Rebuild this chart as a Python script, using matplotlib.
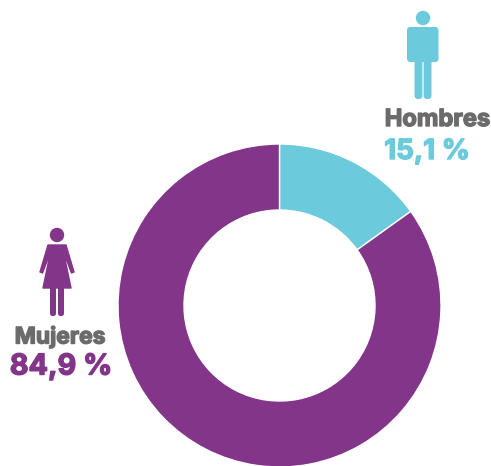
import matplotlib
matplotlib.use("Agg")
import matplotlib.pyplot as plt
from matplotlib.patches import Circle, Polygon, FancyBboxPatch, Rectangle
import matplotlib.patheffects as pe

labels = ["Hombres", "Mujeres"]
values = [15.1, 84.9]
value_labels = ["15,1 %", "84,9 %"]
colors = ["#6BCBDC", "#83358A"]
GREY = "#6B6B6B"
FONT = "Inter"

fig = plt.figure(figsize=(4.91, 4.66), dpi=100)
ax = fig.add_axes([0, 0, 1, 1])
ax.pie(values, colors=colors, startangle=90, counterclock=False, center=(279.5, -305.5),
       radius=161.5, wedgeprops=dict(width=66, edgecolor="white", linewidth=1.0))
ax.set_xlim(0, 491)
ax.set_ylim(-466, 0)
ax.set_aspect("equal")
ax.axis("off")


def rbox(x0, y0, x1, y1, r, c):
    ax.add_patch(FancyBboxPatch((x0 + r, -y1 + r), x1 - x0 - 2 * r, y1 - y0 - 2 * r,
                                boxstyle=f"round,pad={r},rounding_size={r}", fc=c, ec="none"))


# man icon
c = colors[0]
ax.add_patch(Circle((423, -18), 7.2, fc=c, ec="none"))
rbox(407, 27, 438.5, 62, 3.5, c)
ax.add_patch(Rectangle((414.5, -60), 17, 30, fc=c, ec="none"))
rbox(414.5, 50, 422.4, 99, 3.5, c)
rbox(423.6, 50, 431.5, 99, 3.5, c)

# woman icon
c = colors[1]
ax.add_patch(Circle((57, -235), 7.2, fc=c, ec="none"))
outline = [(48, -245), (66, -245), (74, -272), (71.5, -273), (63.5, -252), (71, -288), (43, -288),
           (50.5, -252), (42.5, -273), (40, -272)]
ax.add_patch(Polygon(outline, fc=c, ec=c, lw=1.0, joinstyle="round"))
rbox(50, 285, 56, 316, 2.5, c)
rbox(58, 285, 64, 316, 2.5, c)

# labels
s_grey = [pe.withStroke(linewidth=1.0, foreground=GREY)]
ax.text(437.5, -120, labels[0], ha="center", va="center", color=GREY, fontsize=17,
        fontweight="bold", family=FONT, path_effects=s_grey)
ax.text(60, -337, labels[1], ha="center", va="center", color=GREY, fontsize=16.4,
        fontweight="bold", family=FONT, path_effects=s_grey)
ax.text(427, -152, value_labels[0], ha="center", va="center", color=colors[0], fontsize=20,
        fontweight="bold", family=FONT, path_effects=[pe.withStroke(linewidth=1.0, foreground=colors[0])])
ax.text(61, -367, value_labels[1], ha="center", va="center", color=colors[1], fontsize=20.7,
        fontweight="bold", family=FONT, path_effects=[pe.withStroke(linewidth=1.0, foreground=colors[1])])

fig.savefig("out.png", dpi=100, facecolor="white")
